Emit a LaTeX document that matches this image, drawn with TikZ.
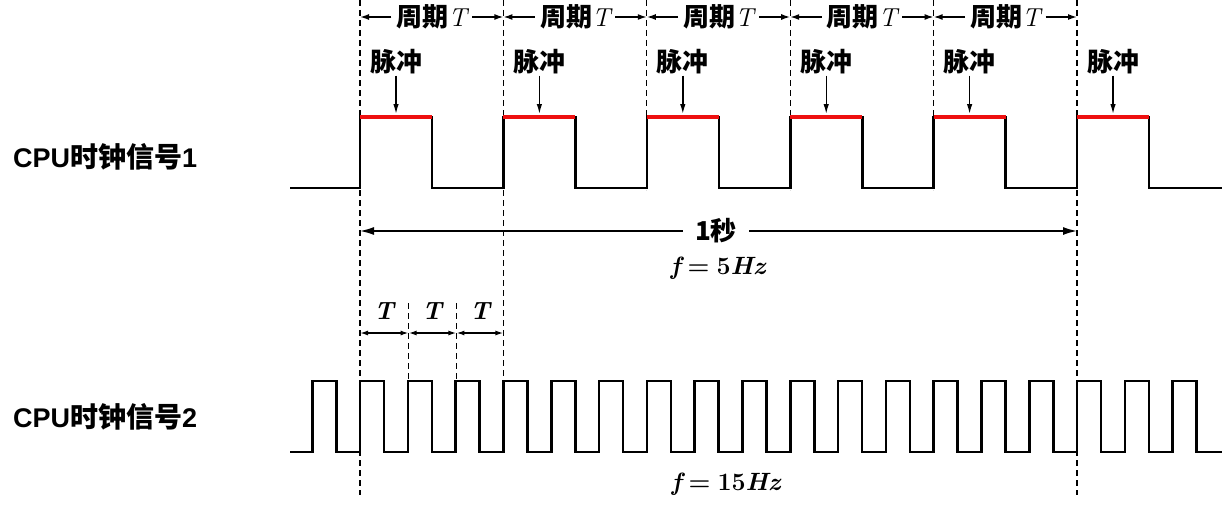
\documentclass[tikz,border=0pt]{standalone}
\usepackage{fontspec}
\newfontfamily\cjk{Noto Sans CJK SC}
\newfontfamily\lsans{Liberation Sans}
\usetikzlibrary{arrows.meta}
\definecolor{pulsered}{RGB}{238,16,16}
\newcommand{\bi}[1]{{\bfseries\itshape #1}}
\newcommand{\eqsp}{\hspace{0.28em}{\bfseries =}\hspace{0.28em}}
\begin{document}
\begin{tikzpicture}[x=1pt,y=-1pt,
  sig/.style={line width=2.6pt, line join=miter},
  pulseline/.style={line width=4.2pt, pulsered},
  guide/.style={line width=1.3pt, dash pattern=on 6pt off 4pt},
  perarrow/.style={line width=1.5pt, -{Latex[length=9pt,width=6pt]}},
  secarrow/.style={line width=1.5pt, -{Latex[length=14pt,width=8pt]}},
  tarrow/.style={line width=1.5pt, {Latex[length=8pt,width=5pt]}-{Latex[length=8pt,width=5pt]}},
  downarrow/.style={line width=1.4pt, -{Latex[length=10pt,width=5.5pt]}},
  cjklab/.style={font=\cjk\bfseries\fontsize{26}{28}\selectfont, inner sep=1pt},
  perlab/.style={font=\cjk\bfseries\fontsize{26}{28}\selectfont, fill=white, inner xsep=5pt, inner ysep=1pt},
  mathlab/.style={font=\fontsize{25}{28}\selectfont, inner sep=1pt},
  siglab/.style={anchor=west, inner sep=0pt},
]
\useasboundingbox (0,0) rectangle (1228,511);

% guide lines
\draw[guide] (360,0) -- (360,495);
\draw[guide] (503.4,0) -- (503.4,380);
\foreach \k in {2,3,4} {\draw[guide] ({360+\k*143.4},0) -- ({360+\k*143.4},190);}
\draw[guide] (1077,0) -- (1077,495);
\draw[guide] (408.6,303) -- (408.6,380);
\draw[guide] (456.4,303) -- (456.4,380);

% signal 1
\draw[sig] (290,188) foreach \k in {0,...,5} { -- ({360+\k*143.4},188) -- ({360+\k*143.4},117) -- ({432+\k*143.4},117) -- ({432+\k*143.4},188) } -- (1222,188);
\foreach \k in {0,...,5} {\draw[pulseline] ({360+\k*143.4},117) -- ({432+\k*143.4},117);}

% signal 2
\draw[sig] (290,452) foreach \k in {0,...,18} { -- ({312.2+\k*47.8},452) -- ({312.2+\k*47.8},381) -- ({336.2+\k*47.8},381) -- ({336.2+\k*47.8},452) } -- (1222,452);

% period labels
\foreach \k [evaluate=\k as \n using int(\k+1)] in {0,...,4} {
  \coordinate (pl\k) at ({360+\k*143.4},17);
  \coordinate (pr\k) at ({360+\n*143.4},17);
  \node[perlab] (per\k) at ({431.7+\k*143.4},17) {周期{\rmfamily\mdseries\itshape\fontsize{26}{28}\selectfont T}};
  \draw[perarrow] (per\k) -- (pl\k);
  \draw[perarrow] (per\k) -- (pr\k);
}

% pulse labels
\foreach \k in {0,...,5} {
  \node[cjklab] (mc\k) at ({396+\k*143.4},62) {脉冲};
  \coordinate (mt\k) at ({396+\k*143.4},114);
  \draw[downarrow] (mc\k) -- (mt\k);
}

% one second
\coordinate (s0) at (360,231);
\coordinate (s1) at (1077,231);
\node[perlab, inner xsep=12pt] (sec) at (716,231) {1秒};
\draw[secarrow] (sec) -- (s0);
\draw[secarrow] (sec) -- (s1);
\node[mathlab] (f1) at (718,268) {\bi{f}\eqsp{\bfseries 5}\bi{Hz}};

% T arrows
\coordinate (t0) at (360,333);
\coordinate (t1) at (408.6,333);
\coordinate (t2) at (456.4,333);
\coordinate (t3) at (503.4,333);
\draw[tarrow] (t0) -- (t1);
\draw[tarrow] (t1) -- (t2);
\draw[tarrow] (t2) -- (t3);
\node[mathlab] (T1) at (384,311) {\bi{T}};
\node[mathlab] (T2) at (432,311) {\bi{T}};
\node[mathlab] (T3) at (480,311) {\bi{T}};

\node[mathlab] (f2) at (726,484) {\bi{f}\eqsp{\bfseries 15}\bi{Hz}};

% signal labels
\node[siglab] (cpu1) at (13,157) {\fontsize{27}{29}\selectfont\lsans\bfseries CPU\cjk\fontsize{28}{30}\selectfont 时钟信号\lsans\fontsize{27}{29}\selectfont 1};
\node[siglab] (cpu2) at (13,417) {\fontsize{27}{29}\selectfont\lsans\bfseries CPU\cjk\fontsize{28}{30}\selectfont 时钟信号\lsans\fontsize{27}{29}\selectfont 2};
\end{tikzpicture}
\end{document}
